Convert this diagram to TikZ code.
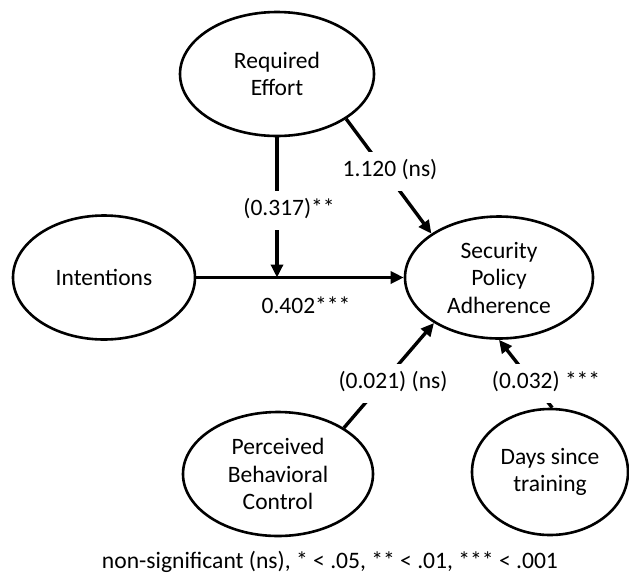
\documentclass[tikz,border=0pt]{standalone}
\usepackage{fontspec}
\setmainfont{Carlito}
\usetikzlibrary{shapes.geometric,arrows.meta}
\begin{document}
\begin{tikzpicture}[x=1pt,y=-1pt,
  every node/.style={font=\fontsize{23.5}{27.5}\selectfont},
  construct/.style={draw, ellipse, line width=2.6pt, inner sep=0pt, align=center},
  conn/.style={line width=3.4pt, -{Triangle[length=13pt,width=12pt]}},
  coef/.style={fill=white, inner xsep=3pt, inner ysep=8pt, text height=17pt, text depth=6pt}]
\fill[white] (0,0) rectangle (629,587);
\useasboundingbox (0,0) rectangle (629,587);
% constructs
\node[construct, minimum width=194pt, minimum height=124pt] (re) at (277,74) {Required\\Effort};
\node[construct, minimum width=182pt, minimum height=124pt] (int) at (104,277.5) {Intentions};
\node[construct, minimum width=188pt, minimum height=122pt] (spa) at (499,277.5) {Security\\Policy\\Adherence};
\node[construct, minimum width=190pt, minimum height=124pt] (pbc) at (278,474) {Perceived\\Behavioral\\Control};
\node[construct, minimum width=156pt, minimum height=126pt] (days) at (550,472) {Days since\\training};
% connectors
\draw[conn] (int.east) -- (spa.west);
\draw[conn] (re.south) -- (re.south |- int.east);
\draw[conn] (re.-33) -- (spa.147);
\draw[conn] (pbc.35) -- (spa.215);
\draw[conn] (days.88) -- (spa.-90);
% coefficient labels
\node[coef] (c317) at (289,210) {(0.317)**};
\node (c402) at (306,305) {0.402***};
\node[coef] (c120) at (390,171) {1.120 (ns)};
\node[coef] (c021) at (393,383) {(0.021) (ns)};
\node[coef] (c032) at (546,383) {(0.032) ***};
% footer
\node[font=\fontsize{23.6}{28}\selectfont] (note) at (330,562) {non-significant (ns), * < .05, ** < .01, *** < .001};
\end{tikzpicture}
\end{document}
